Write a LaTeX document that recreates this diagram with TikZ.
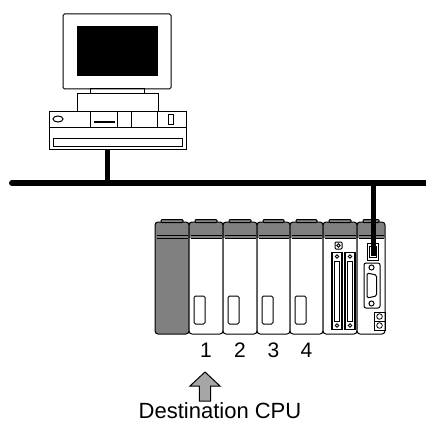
\documentclass[tikz,border=0pt]{standalone}
\usepackage{fontspec}
\setmainfont{Liberation Sans}
\begin{document}
\begin{tikzpicture}[x=1pt,y=-1pt,
  outline/.style={draw=black,line width=1pt},
  hatch/.style={fill=black!50},
  cable/.style={draw=black,line width=5pt},
  label/.style={inner sep=0pt,font=\fontsize{22}{26}\selectfont},
  slotnum/.style={inner sep=0pt,font=\fontsize{21}{24}\selectfont}]
\useasboundingbox (0,0) rectangle (425,430);

% ---------- personal computer ----------
% monitor
\draw[outline,rounded corners=1.5pt,fill=white] (63,14) rectangle (171,89);
\fill[black] (77,26) rectangle (158,76);
\draw[outline] (90,89) rectangle (144,94);
\draw[outline] (77,94) rectangle (158,112);
% desktop unit
\draw[outline,fill=white] (49,112) rectangle (186,150);
\draw[outline] (49,128) -- (186,128);
\foreach \x in {90,117,131,157} \draw[outline] (\x,112) -- (\x,128);
\draw[outline] (58,119) ellipse (5 and 3);
\draw[line width=1.3pt] (94,122) -- (115,122);
\draw[outline] (168,115) rectangle (173,125);
\draw[outline] (53,139) rectangle (182,147);
\coordinate (pcport) at (107,150);

% ---------- network bus ----------
\coordinate (busL) at (12,183);
\coordinate (busR) at (432,183);
\coordinate (tapPC) at (107,183);
\coordinate (tapPLC) at (373.5,183);
\coordinate (plcport) at (373.5,256);
\draw[line width=6pt,line cap=round] (busL) -- (busR);
\draw[cable] (pcport) -- (tapPC);

% ---------- PLC base with modules ----------
\foreach \xa/\xb/\dark in {155/189/1,189/223/0,223/257/0,257/290/0,290/323/0,323/357/0,357/385/0}{
  \begin{scope}
    \clip[rounded corners=3pt] (\xa,222) rectangle (\xb,334);
    \fill[white] (\xa,222) rectangle (\xb,334);
    \ifnum\dark=1
      \fill[hatch] (\xa,222) rectangle (\xb,334);
    \else
      \fill[hatch] (\xa,222) rectangle (\xb,238);
    \fi
  \end{scope}
  \draw[outline,rounded corners=3pt] (\xa,222) rectangle (\xb,334);
  \draw[outline,hatch,rounded corners=1pt] (\xa+6,219.5) rectangle (\xb-6,222.5);
  \draw[line width=0.8pt] (\xa+1.5,235.5) -- (\xb-1.5,235.5);
  \draw[line width=0.8pt] (\xa+1.5,238) -- (\xb-1.5,238);
}
% CPU slot windows
\foreach \xa in {189,223,257,290}
  \draw[outline,rounded corners=1.5pt] (\xa+5,296) rectangle (\xa+16,324);

% I/O module with two connectors
\draw[outline,rounded corners=1pt] (335,242) rectangle (342,249);
\draw[line width=0.8pt] (338.5,245.5) circle (1.8);
\foreach \cx in {332,345}{
  \draw[line width=1.6pt] (\cx,252.5) rectangle (\cx+10,329.5);
  \draw[line width=0.8pt] (\cx+2.5,261) rectangle (\cx+7.5,321);
  \draw[line width=0.8pt] (\cx+5,256.5) circle (1.8);
  \draw[line width=0.8pt] (\cx+5,325.5) circle (1.8);
}

% network module
\draw[outline,fill=white] (367,243) rectangle (378,260);
\draw[line width=0.8pt] (369,246) rectangle (376,257);
\draw[cable] (tapPLC) -- (plcport);
\draw[outline,rounded corners=2pt] (364,263) rectangle (380,308);
\draw[outline] (371.5,267.5) circle (2.5);
\draw[outline] (371.5,303.5) circle (2.5);
\draw[outline,rounded corners=1.5pt] (367,273) -- (376.5,275) -- (376.5,296) -- (367,298) -- cycle;
\draw[outline] (374,312) rectangle (385,321);
\draw[outline] (374,321) rectangle (385,330);
\draw[line width=0.8pt] (379.5,316.5) circle (2.8);
\draw[line width=0.8pt] (379.5,325.5) circle (2.8);

% ---------- slot numbers ----------
\node[slotnum] (s1) at (206,350) {1};
\node[slotnum] (s2) at (240,350) {2};
\node[slotnum] (s3) at (273.5,350) {3};
\node[slotnum] (s4) at (306.5,350) {4};

% ---------- pointer arrow and caption ----------
\draw[outline,fill=black!35] (205,372) -- (220,386) -- (210.7,386) -- (210.7,401)
  -- (199.3,401) -- (199.3,386) -- (190,386) -- cycle;
\node[label] (dest) at (220,411) {Destination CPU};
\end{tikzpicture}
\end{document}
